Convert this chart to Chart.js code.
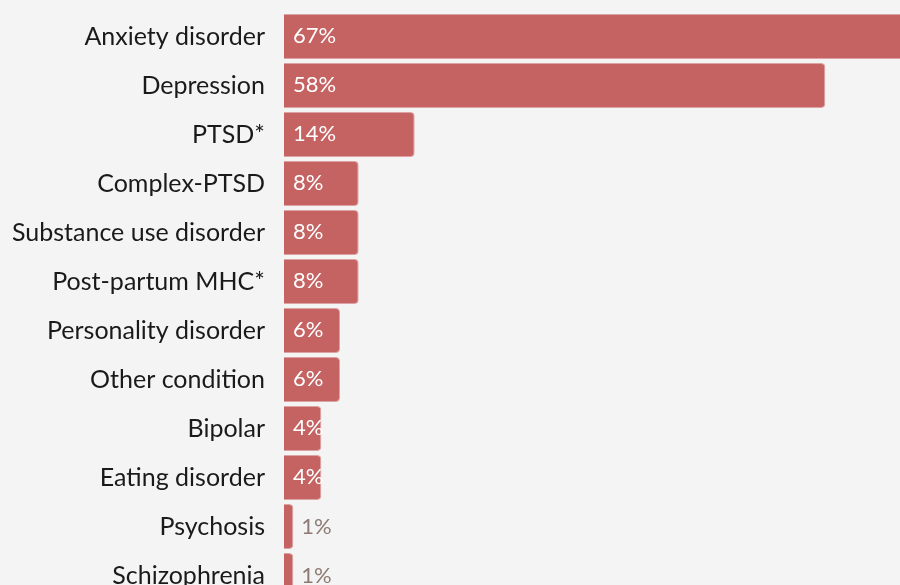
<!DOCTYPE html>
<html>
<head>
<meta charset="utf-8">
<script src="https://cdn.jsdelivr.net/npm/chart.js@4"></script>
<style>
  html, body { margin: 0; padding: 0; background: #f4f4f4; overflow: hidden; }
  .wrap { position: relative; width: 900px; height: 600px; }
</style>
</head>
<body>
<div class="wrap"><canvas id="chart" width="900" height="600"></canvas></div>
<script>
const categories = ['Anxiety disorder', 'Depression', 'PTSD*', 'Complex-PTSD', 'Substance use disorder',
  'Post-partum MHC*', 'Personality disorder', 'Other condition', 'Bipolar', 'Eating disorder',
  'Psychosis', 'Schizophrenia'];
const values = [67, 58, 14, 8, 8, 8, 6, 6, 4, 4, 1, 1];

const BAR = '#c56262';
const FONT = 'Lato, "Open Sans", sans-serif';

// value labels: inside for normal bars, outside for tiny ones
const valueLabels = {
  id: 'valueLabels',
  afterDatasetsDraw(chart) {
    const { ctx } = chart;
    const meta = chart.getDatasetMeta(0);
    ctx.save();
    ctx.font = '22px ' + FONT;
    ctx.textBaseline = 'middle';
    ctx.textAlign = 'left';
    meta.data.forEach((bar, i) => {
      const v = values[i];
      if (v >= 2) {
        ctx.fillStyle = '#ffffff';
        ctx.fillText(v + '%', bar.base + 9, bar.y - 1);
      } else {
        ctx.fillStyle = '#8c7b74';
        ctx.fillText(v + '%', bar.x + 8, bar.y);
      }
    });
    ctx.restore();
  }
};

new Chart(document.getElementById('chart'), {
  type: 'bar',
  data: {
    labels: categories,
    datasets: [{
      data: values,
      backgroundColor: BAR,
      borderColor: '#dba3a3',
      borderWidth: 1,
      borderRadius: 4,
      borderSkipped: 'start',
      barPercentage: 0.92,
      categoryPercentage: 1
    }]
  },
  options: {
    indexAxis: 'y',
    responsive: false,
    animation: false,
    layout: { padding: { top: 12, right: 0, bottom: 0, left: 0 } },
    plugins: { legend: { display: false }, tooltip: { enabled: false } },
    scales: {
      x: {
        min: 0,
        max: 66,
        display: false
      },
      y: {
        grid: { display: false, drawTicks: false },
        border: { display: false },
        afterFit(scale) {
          scale.width = 284;
          scale.paddingTop = 0;
          scale.paddingBottom = 0;
        },
        ticks: {
          color: '#1a1a1a',
          padding: 19,
          font: { family: FONT, size: 25 }
        }
      }
    }
  },
  plugins: [valueLabels]
});
</script>
</body>
</html>
